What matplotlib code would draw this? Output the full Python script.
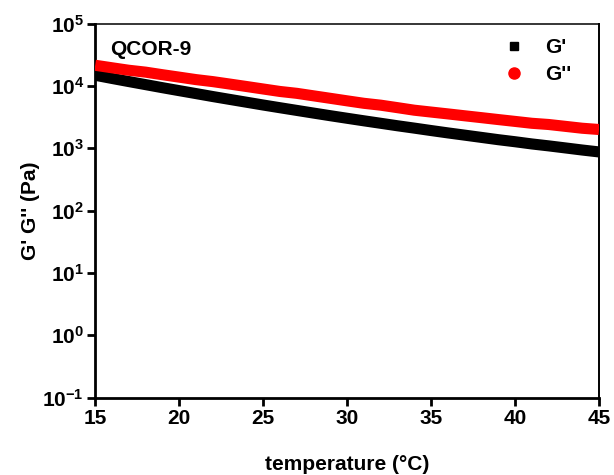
import matplotlib
matplotlib.use('Agg')
import matplotlib.pyplot as plt
import numpy as np

plt.rcParams['font.family'] = ['Liberation Sans', 'DejaVu Sans']
plt.rcParams['font.weight'] = 'bold'
plt.rcParams['mathtext.fontset'] = 'custom'
plt.rcParams['mathtext.rm'] = 'Liberation Sans:bold'
plt.rcParams['mathtext.bf'] = 'Liberation Sans:bold'

# temperature sweep, storage (G') and loss (G'') modulus in Pa
temperature = [15, 16, 17, 18, 19, 20, 21, 22, 23, 24, 25, 26, 27, 28, 29, 30,
               31, 32, 33, 34, 35, 36, 37, 38, 39, 40, 41, 42, 43, 44, 45]
g_storage = [14800, 13150, 11720, 10470, 9350, 8380, 7520, 6740, 6070, 5470,
             4930, 4460, 4040, 3660, 3320, 3020, 2750, 2510, 2290, 2100,
             1920, 1760, 1620, 1490, 1370, 1270, 1170, 1090, 1010, 935, 871]
g_loss = [21400, 19500, 17800, 16600, 15100, 13800, 12600, 11700, 10700, 9770,
          8910, 8130, 7590, 6920, 6310, 5750, 5250, 4900, 4470, 4070,
          3800, 3550, 3310, 3090, 2880, 2690, 2510, 2400, 2240, 2090, 1995]

x_ticks = [15, 20, 25, 30, 35, 40, 45]
y_ticks = [1e-1, 1e0, 1e1, 1e2, 1e3, 1e4, 1e5]
y_labels = [r'$\mathbf{10^{-1}}$', r'$\mathbf{10^{0}}$', r'$\mathbf{10^{1}}$',
            r'$\mathbf{10^{2}}$', r'$\mathbf{10^{3}}$', r'$\mathbf{10^{4}}$',
            r'$\mathbf{10^{5}}$']

fig = plt.figure(figsize=(6.14, 4.75), dpi=100)
ax = fig.add_axes([0.155, 0.163, 0.8206, 0.7875])

# dense measurement points, drawn as a thick smooth trace
ax.plot(temperature, g_storage, color='black', lw=8, solid_capstyle='butt', zorder=2)
ax.plot(temperature, g_loss, color='red', lw=8, solid_capstyle='butt', zorder=3)

ax.set_yscale('log')
ax.set_xlim(15, 45)
ax.set_ylim(1e-1, 1e5)
ax.set_xticks(x_ticks)
ax.set_yticks(y_ticks)
ax.set_yticklabels(y_labels)
ax.yaxis.set_minor_locator(matplotlib.ticker.NullLocator())
ax.tick_params(axis='both', which='major', labelsize=15, width=2, length=6,
               direction='out', pad=2)
ax.spines['left'].set_linewidth(2.0)
ax.spines['bottom'].set_linewidth(2.0)
ax.spines['top'].set_linewidth(1.1)
ax.spines['right'].set_linewidth(1.4)

ax.set_xlabel('temperature (°C)', fontsize=15, fontweight='bold', labelpad=20)
ax.set_ylabel("G' G'' (Pa)", fontsize=15, fontweight='bold', labelpad=2)

ax.text(0.03, 0.955, 'QCOR-9', transform=ax.transAxes, fontsize=15,
        fontweight='bold', va='top', ha='left')

h1, = ax.plot([], [], 's', color='black', ms=6)
h2, = ax.plot([], [], 'o', color='red', ms=8)
ax.legend([h1, h2], ["G'", "G''"], loc='upper right', frameon=False,
          fontsize=15, handletextpad=0.5, borderaxespad=0.3, labelspacing=0.4,
          bbox_to_anchor=(0.975, 1.0))

fig.savefig('out.png', dpi=100)
